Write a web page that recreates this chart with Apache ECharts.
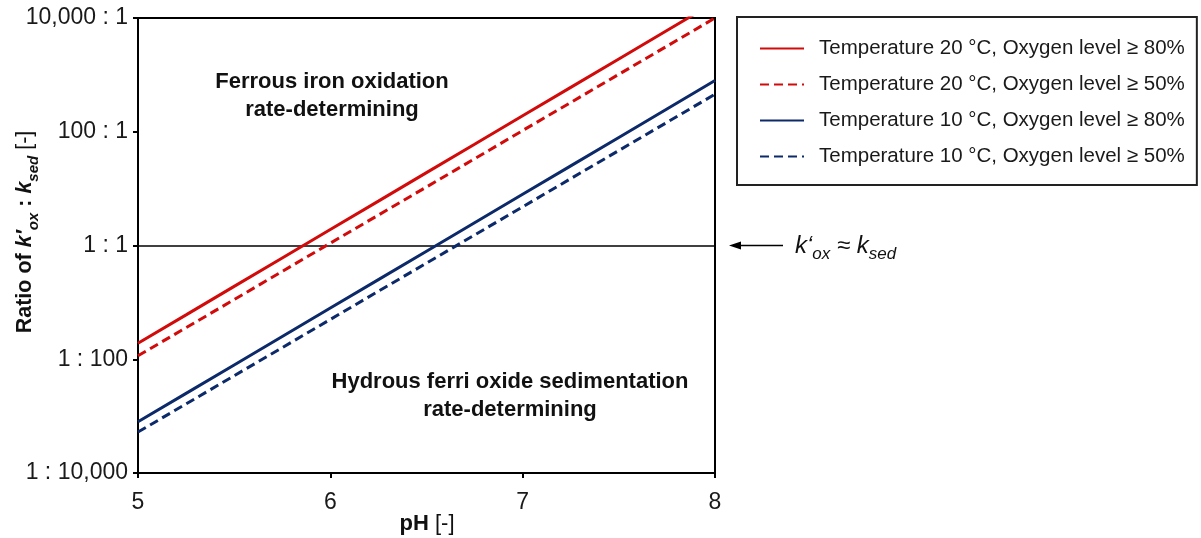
<!DOCTYPE html>
<html>
<head>
<meta charset="utf-8">
<script src="https://cdn.jsdelivr.net/npm/echarts@6/dist/echarts.min.js"></script>
<style>
  html, body { margin: 0; padding: 0; background: #fff; }
  #chart { width: 1201px; height: 538px; }
</style>
</head>
<body>
<div id="chart"></div>
<script>
// pH values along the x axis
const phValues = [5.00, 5.25, 5.50, 5.75, 6.00, 6.25, 6.50, 6.75, 7.00, 7.25, 7.50, 7.75, 8.00];

// Ratio k'ox : ksed for each condition
const ratio20C80 = [0.0191, 0.0603, 0.191, 0.603, 1.91, 6.03, 19.1, 60.3, 191, 603, 1905, 6026, 19050];
const ratio20C50 = [0.0115, 0.0359, 0.112, 0.351, 1.10, 3.43, 10.7, 33.5, 105, 327, 1023, 3199, 10000];
const ratio10C80 = [0.000794, 0.00251, 0.00794, 0.0251, 0.0794, 0.251, 0.794, 2.51, 7.94, 25.1, 79.4, 251, 794];
const ratio10C50 = [0.000525, 0.00164, 0.00513, 0.0160, 0.0501, 0.157, 0.490, 1.53, 4.79, 15.0, 46.8, 146, 457];

const seriesNames = [
  'Temperature 20 °C, Oxygen level ≥ 80%',
  'Temperature 20 °C, Oxygen level ≥ 50%',
  'Temperature 10 °C, Oxygen level ≥ 80%',
  'Temperature 10 °C, Oxygen level ≥ 50%'
];

// y tick labels, keyed by power of ten
const yTickLabels = { '-4': '1 : 10,000', '-2': '1 : 100', '0': '1 : 1', '2': '100 : 1', '4': '10,000 : 1' };

const RED = '#d20a0a';
const BLUE = '#0c2a6a';
const FONT = '"Liberation Sans", Arial, sans-serif';

function pairs(vals) { return phValues.map((x, i) => [x, vals[i]]); }

function lineSeries(name, vals, color, dashed) {
  return {
    name: name,
    type: 'line',
    data: pairs(vals),
    symbol: 'none',
    smooth: false,
    clip: true,
    lineStyle: { color: color, width: 3, type: dashed ? [9, 5] : 'solid' },
    itemStyle: { color: color },
    z: 3
  };
}

const series = [
  lineSeries(seriesNames[0], ratio20C80, RED, false),
  lineSeries(seriesNames[1], ratio20C50, RED, true),
  lineSeries(seriesNames[2], ratio10C80, BLUE, false),
  lineSeries(seriesNames[3], ratio10C50, BLUE, true)
];

// reference line where both rates are equal
series[0].markLine = {
  silent: true,
  symbol: 'none',
  label: { show: false },
  lineStyle: { color: '#000', width: 1.6, type: 'solid' },
  data: [{ yAxis: 1 }],
  z: 2
};

const chart = echarts.init(document.getElementById('chart'), null, { renderer: 'canvas' });

chart.setOption({
  animation: false,
  backgroundColor: '#fff',
  textStyle: { fontFamily: FONT },
  grid: {
    left: 138, right: 486, top: 18, bottom: 65,
    outerBoundsMode: 'none',
    containLabel: false,
    show: true, borderColor: '#000', borderWidth: 2, backgroundColor: 'transparent'
  },
  xAxis: {
    type: 'value',
    min: 5, max: 8, interval: 1,
    axisLine: { show: true, lineStyle: { color: '#000', width: 2 } },
    axisTick: { show: true, length: 5, lineStyle: { color: '#000', width: 2 } },
    axisLabel: { color: '#1a1a1a', fontSize: 23, fontFamily: FONT, margin: 18 },
    splitLine: { show: false }
  },
  yAxis: {
    type: 'log',
    logBase: 100,
    min: 0.0001, max: 10000,
    splitNumber: 4,
    axisLine: { show: true, lineStyle: { color: '#000', width: 2 } },
    axisTick: { show: true, length: 5, lineStyle: { color: '#000', width: 2 } },
    axisLabel: {
      color: '#1a1a1a', fontSize: 23, fontFamily: FONT, margin: 10,
      formatter: v => yTickLabels[String(Math.round(Math.log10(v)))] || ''
    },
    minorTick: { show: false },
    splitLine: { show: false }
  },
  legend: {
    orient: 'vertical',
    left: 737, top: 17,
    padding: [21, 12, 18, 22],
    itemGap: 15,
    itemWidth: 44,
    itemHeight: 14,
    itemStyle: { opacity: 0 },
    backgroundColor: '#fff',
    borderColor: '#222',
    borderWidth: 2,
    textStyle: { fontFamily: FONT, fontSize: 20.5, color: '#1a1a1a', lineHeight: 20, padding: [0, 0, 0, 10] },
    data: seriesNames
  },
  graphic: [
    {
      type: 'text',
      style: {
        text: 'Ferrous iron oxidation\nrate-determining',
        x: 332, y: 68,
        align: 'center', verticalAlign: 'top',
        font: 'bold 22px ' + FONT, fill: '#111', lineHeight: 28
      }
    },
    {
      type: 'text',
      style: {
        text: 'Hydrous ferri oxide sedimentation\nrate-determining',
        x: 510, y: 368,
        align: 'center', verticalAlign: 'top',
        font: 'bold 22px ' + FONT, fill: '#111', lineHeight: 28
      }
    },
    {
      // x axis title
      type: 'text',
      style: {
        text: '{b|pH}{r| [-]}',
        x: 427, y: 524,
        align: 'center', verticalAlign: 'middle',
        rich: {
          b: { fontFamily: FONT, fontWeight: 'bold', fontSize: 22, fill: '#111' },
          r: { fontFamily: FONT, fontSize: 22, fill: '#111' }
        }
      }
    },
    {
      // y axis title
      type: 'text',
      x: 25, y: 232,
      rotation: Math.PI / 2,
      style: {
        text: '{b|Ratio of }{k|k′}{sub|ox}{b| : }{k|k}{sub|sed}{r| [-]}',
        x: 0, y: 0,
        align: 'center', verticalAlign: 'middle',
        rich: {
          b: { fontFamily: FONT, fontWeight: 'bold', fontSize: 21.5, fill: '#111', lineHeight: 26 },
          k: { fontFamily: FONT, fontWeight: 'bold', fontStyle: 'italic', fontSize: 21.5, fill: '#111', lineHeight: 26 },
          sub: { fontFamily: FONT, fontWeight: 'bold', fontStyle: 'italic', fontSize: 15, fill: '#111', lineHeight: 15, verticalAlign: 'bottom', padding: [0, 0, -3, 0] },
          r: { fontFamily: FONT, fontSize: 21.5, fill: '#111', lineHeight: 26 }
        }
      }
    },
    {
      type: 'line',
      shape: { x1: 739, y1: 245.5, x2: 783, y2: 245.5 },
      style: { stroke: '#000', lineWidth: 1.3 }
    },
    {
      type: 'polygon',
      shape: { points: [[729, 245.5], [741, 241.5], [741, 249.5]] },
      style: { fill: '#000' }
    },
    {
      type: 'text',
      style: {
        text: '{k|k‘}{sub|ox}{k| ≈ k}{sub|sed}',
        x: 795, y: 246,
        align: 'left', verticalAlign: 'middle',
        rich: {
          k: { fontFamily: FONT, fontStyle: 'italic', fontSize: 24, fill: '#111', lineHeight: 26 },
          sub: { fontFamily: FONT, fontStyle: 'italic', fontSize: 17, fill: '#111', lineHeight: 17, verticalAlign: 'bottom', padding: [0, 0, -4, 0] }
        }
      }
    }
  ],
  series: series
});
</script>
</body>
</html>
